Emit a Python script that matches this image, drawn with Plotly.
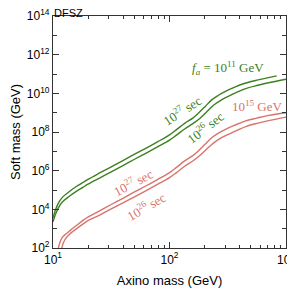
import plotly.graph_objects as go

# Axino mass (GeV) and soft mass (GeV) (log10 values)
g27_logx = [1.000, 1.020, 1.046, 1.080, 1.146, 1.200, 1.260, 1.300, 1.400, 1.500, 1.600,
            1.700, 1.800, 1.900, 2.000, 2.060, 2.133, 2.200, 2.247, 2.305, 2.362, 2.420,
            2.476, 2.560, 2.648, 2.750, 2.850, 2.920]
g27_logy = [3.55, 3.95, 4.32, 4.62, 4.95, 5.18, 5.40, 5.55, 5.88, 6.20, 6.52,
            6.85, 7.17, 7.50, 7.85, 8.12, 8.46, 8.72, 8.97, 9.31, 9.66, 9.90,
            10.09, 10.32, 10.52, 10.68, 10.81, 10.90]

g26_logx = [1.000, 1.020, 1.046, 1.080, 1.146, 1.200, 1.260, 1.300, 1.400, 1.500, 1.600,
            1.700, 1.800, 1.900, 2.000, 2.060, 2.133, 2.200, 2.260, 2.320, 2.380, 2.440,
            2.500, 2.580, 2.660, 2.760, 2.860, 3.000]
g26_logy = [3.35, 3.72, 4.08, 4.38, 4.70, 4.93, 5.15, 5.30, 5.62, 5.94, 6.26,
            6.59, 6.91, 7.24, 7.58, 7.84, 8.17, 8.43, 8.70, 9.05, 9.40, 9.64,
            9.83, 10.06, 10.26, 10.42, 10.56, 10.73]

r27_logx = [1.046, 1.060, 1.080, 1.110, 1.146, 1.200, 1.260, 1.300, 1.400, 1.500, 1.600,
            1.700, 1.800, 1.900, 2.000, 2.060, 2.133, 2.200, 2.247, 2.305, 2.362, 2.420,
            2.476, 2.560, 2.648, 2.750, 2.850, 3.000]
r27_logy = [2.00, 2.30, 2.55, 2.72, 2.90, 3.16, 3.44, 3.60, 3.92, 4.25, 4.57,
            4.90, 5.22, 5.55, 5.90, 6.17, 6.52, 6.78, 7.02, 7.36, 7.70, 7.94,
            8.12, 8.35, 8.56, 8.72, 8.86, 9.00]

r26_logx = [1.075, 1.090, 1.110, 1.140, 1.170, 1.220, 1.280, 1.320, 1.400, 1.500, 1.600,
            1.700, 1.800, 1.900, 2.000, 2.060, 2.133, 2.200, 2.260, 2.320, 2.380, 2.440,
            2.500, 2.580, 2.660, 2.760, 2.860, 3.000]
r26_logy = [2.00, 2.28, 2.50, 2.70, 2.85, 3.08, 3.34, 3.48, 3.70, 4.02, 4.33,
            4.65, 4.97, 5.30, 5.64, 5.90, 6.24, 6.50, 6.78, 7.12, 7.44, 7.68,
            7.86, 8.08, 8.29, 8.46, 8.60, 8.77]

x_major = [10, 100, 1000]
x_major_text = ["10<sup>1</sup>", "10<sup>2</sup>", "10<sup>3</sup>"]
x_minor = [m * d for d in (10, 100) for m in range(2, 10)]
y_major = [1e2, 1e4, 1e6, 1e8, 1e10, 1e12, 1e14]
y_major_text = ["10<sup>2</sup>", "10<sup>4</sup>", "10<sup>6</sup>", "10<sup>8</sup>",
                "10<sup>10</sup>", "10<sup>12</sup>", "10<sup>14</sup>"]
y_minor = [1e3, 1e5, 1e7, 1e9, 1e11, 1e13]

GREEN = "#3d8021"
RED = "#d8736b"

fig = go.Figure()
for lx, ly, col in [(g27_logx, g27_logy, GREEN), (g26_logx, g26_logy, GREEN),
                    (r27_logx, r27_logy, RED), (r26_logx, r26_logy, RED)]:
    fig.add_trace(go.Scatter(x=[10 ** v for v in lx], y=[10 ** v for v in ly],
                             mode="lines", line=dict(color=col, width=1.4, shape="spline"),
                             showlegend=False, hoverinfo="skip"))

axis_common = dict(type="log", showgrid=False, zeroline=False, showline=True,
                   linecolor="#333", linewidth=1.2, mirror="ticks", ticks="inside",
                   tickcolor="#333", ticklen=6, tickwidth=1, tickmode="array",
                   automargin=False, ticklabeloverflow="allow",
                   tickfont=dict(family="Liberation Sans", size=12, color="black"))

fig.update_xaxes(**axis_common, range=[1, 3], tickvals=x_major, ticktext=x_major_text,
                 minor=dict(tickmode="array", tickvals=x_minor, ticks="inside",
                            ticklen=3, tickcolor="#333"),
                 title=dict(text="Axino mass (GeV)", standoff=10,
                            font=dict(family="Liberation Sans", size=13, color="black")))
fig.update_yaxes(**axis_common, range=[2, 14], tickvals=y_major, ticktext=y_major_text,
                 minor=dict(tickmode="array", tickvals=y_minor, ticks="inside",
                            ticklen=4, tickcolor="#333"),
                 title=dict(text="Soft mass (GeV)", standoff=10,
                            font=dict(family="Liberation Sans", size=13, color="black")))

# the page body has an 8px margin; size the figure so the plot lands where the reference has it
OFF = 8
W, H = 295 - OFF, 293 - OFF
L, R, T, B = 53 - OFF, 9, 16 - OFF, 45
pw, ph = W - L - R, H - T - B


def px(xp, yp):
    # reference window pixel -> paper coordinates
    return (xp - OFF - L) / pw, (H - B - (yp - OFF)) / ph


serif = dict(family="Liberation Serif", size=13)
labels = [
    ("<i>f</i><sub><i>a</i></sub> = 10<sup>11</sup> GeV", 228, 68, 0, GREEN),
    ("10<sup>27</sup> sec", 182, 110, -33, GREEN),
    ("10<sup>26</sup> sec", 205, 127, -38, GREEN),
    ("10<sup>15</sup> GeV", 257, 106, 0, RED),
    ("10<sup>27</sup> sec", 133, 182, -28, RED),
    ("10<sup>26</sup> sec", 146, 206, -30, RED),
]
for txt, xp, yp, ang, col in labels:
    xx, yy = px(xp, yp)
    fig.add_annotation(text=txt, x=xx, y=yy, xref="paper", yref="paper",
                       xanchor="center", yanchor="middle",
                       showarrow=False, textangle=ang,
                       font=dict(color=col, **serif))

fig.add_annotation(text="DFSZ", x=0, y=1, xref="paper", yref="paper",
                   xanchor="left", yanchor="bottom", showarrow=False, yshift=-4,
                   borderpad=0, font=dict(family="Liberation Sans", size=11, color="black"))

fig.update_layout(width=W, height=H, margin=dict(l=L, r=R, t=T, b=B),
                  plot_bgcolor="white", paper_bgcolor="white")

fig.write_html("out.html")
